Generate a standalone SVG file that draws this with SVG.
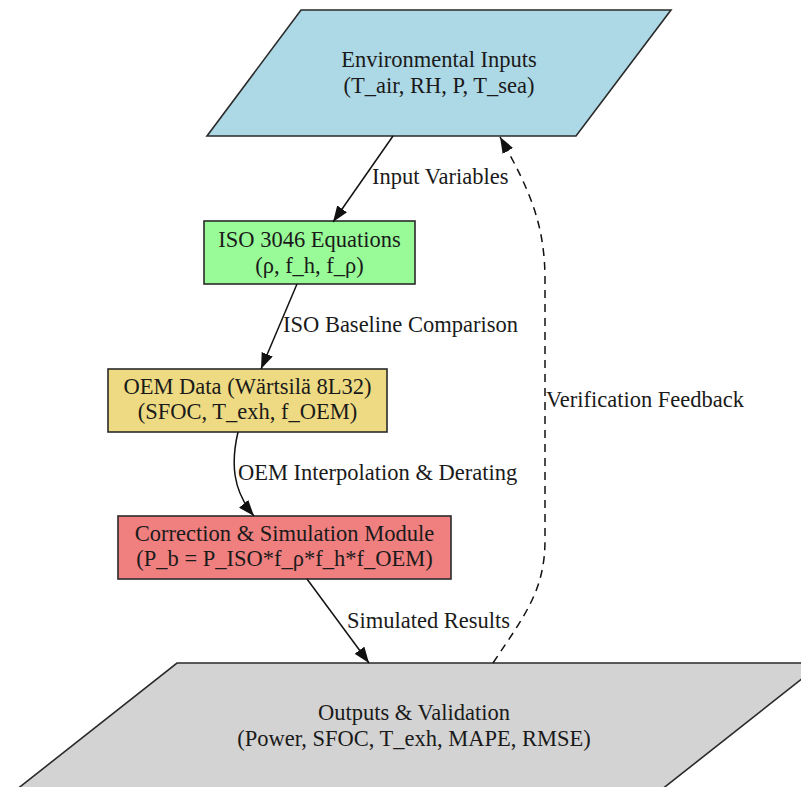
<svg xmlns="http://www.w3.org/2000/svg" width="801" height="787" viewBox="0 0 801 787">
<style>
  .node { stroke: #2a2a2a; stroke-width: 1.6; }
  .lbl { font-family: "Liberation Serif", "Times New Roman", serif; font-size: 22.5px; fill: #1a1a1a; }
  .c { text-anchor: middle; }
  .edge { fill: none; stroke: #111; stroke-width: 1.5; }
  .dash { stroke-dasharray: 8,6; }
</style>
<defs>
  <marker id="arr" markerUnits="userSpaceOnUse" markerWidth="16" markerHeight="12" refX="16" refY="6" orient="auto">
    <path d="M0,0 L16,6 L0,12 z" fill="#111" stroke="none"/>
  </marker>
</defs>
<rect width="801" height="787" fill="#ffffff"/>

<g id="env">
  <polygon class="node" points="301,10 671,10 576,136 207,136" fill="#ADD8E6"/>
  <text class="lbl c" x="439" y="67">Environmental Inputs</text>
  <text class="lbl c" x="439" y="93">(T_air, RH, P, T_sea)</text>
</g>

<g id="iso">
  <rect class="node" x="204" y="221" width="211" height="63" fill="#98FB98"/>
  <text class="lbl c" x="309.5" y="247">ISO 3046 Equations</text>
  <text class="lbl c" x="309.5" y="273">(ρ, f_h, f_ρ)</text>
</g>

<g id="oem">
  <rect class="node" x="108" y="369" width="279" height="63" fill="#EEDA82"/>
  <text class="lbl c" x="247.5" y="394">OEM Data (Wärtsilä 8L32)</text>
  <text class="lbl c" x="247.5" y="419">(SFOC, T_exh, f_OEM)</text>
</g>

<g id="correction">
  <rect class="node" x="118" y="516" width="333" height="63" fill="#F08080"/>
  <text class="lbl c" x="284.5" y="541">Correction &amp; Simulation Module</text>
  <text class="lbl c" x="284.5" y="566">(P_b = P_ISO*f_ρ*f_h*f_OEM)</text>
</g>

<g id="outputs">
  <polygon class="node" points="177,663 822,663 661,790 16,790" fill="#D3D3D3"/>
  <text class="lbl c" x="414" y="720">Outputs &amp; Validation</text>
  <text class="lbl c" x="414" y="746">(Power, SFOC, T_exh, MAPE, RMSE)</text>
</g>

<g id="connectors">
  <path class="edge" d="M393,136 L333,222" marker-end="url(#arr)"/>
  <text class="lbl" x="372" y="184">Input Variables</text>
  <path class="edge" d="M297,284 L261,369" marker-end="url(#arr)"/>
  <text class="lbl" x="283" y="332">ISO Baseline Comparison</text>
  <path class="edge" d="M238,432 C231,462 232,490 254,516" marker-end="url(#arr)"/>
  <text class="lbl" x="238" y="480">OEM Interpolation &amp; Derating</text>
  <path class="edge" d="M307,579 L369,663" marker-end="url(#arr)"/>
  <text class="lbl" x="347" y="628">Simulated Results</text>
  <path class="edge dash" d="M493,663 C525,615 545,590 545,540 L545,280 C545,225 530,190 500,137" marker-end="url(#arr)"/>
  <text class="lbl" x="546" y="407">Verification Feedback</text>
</g>
</svg>
